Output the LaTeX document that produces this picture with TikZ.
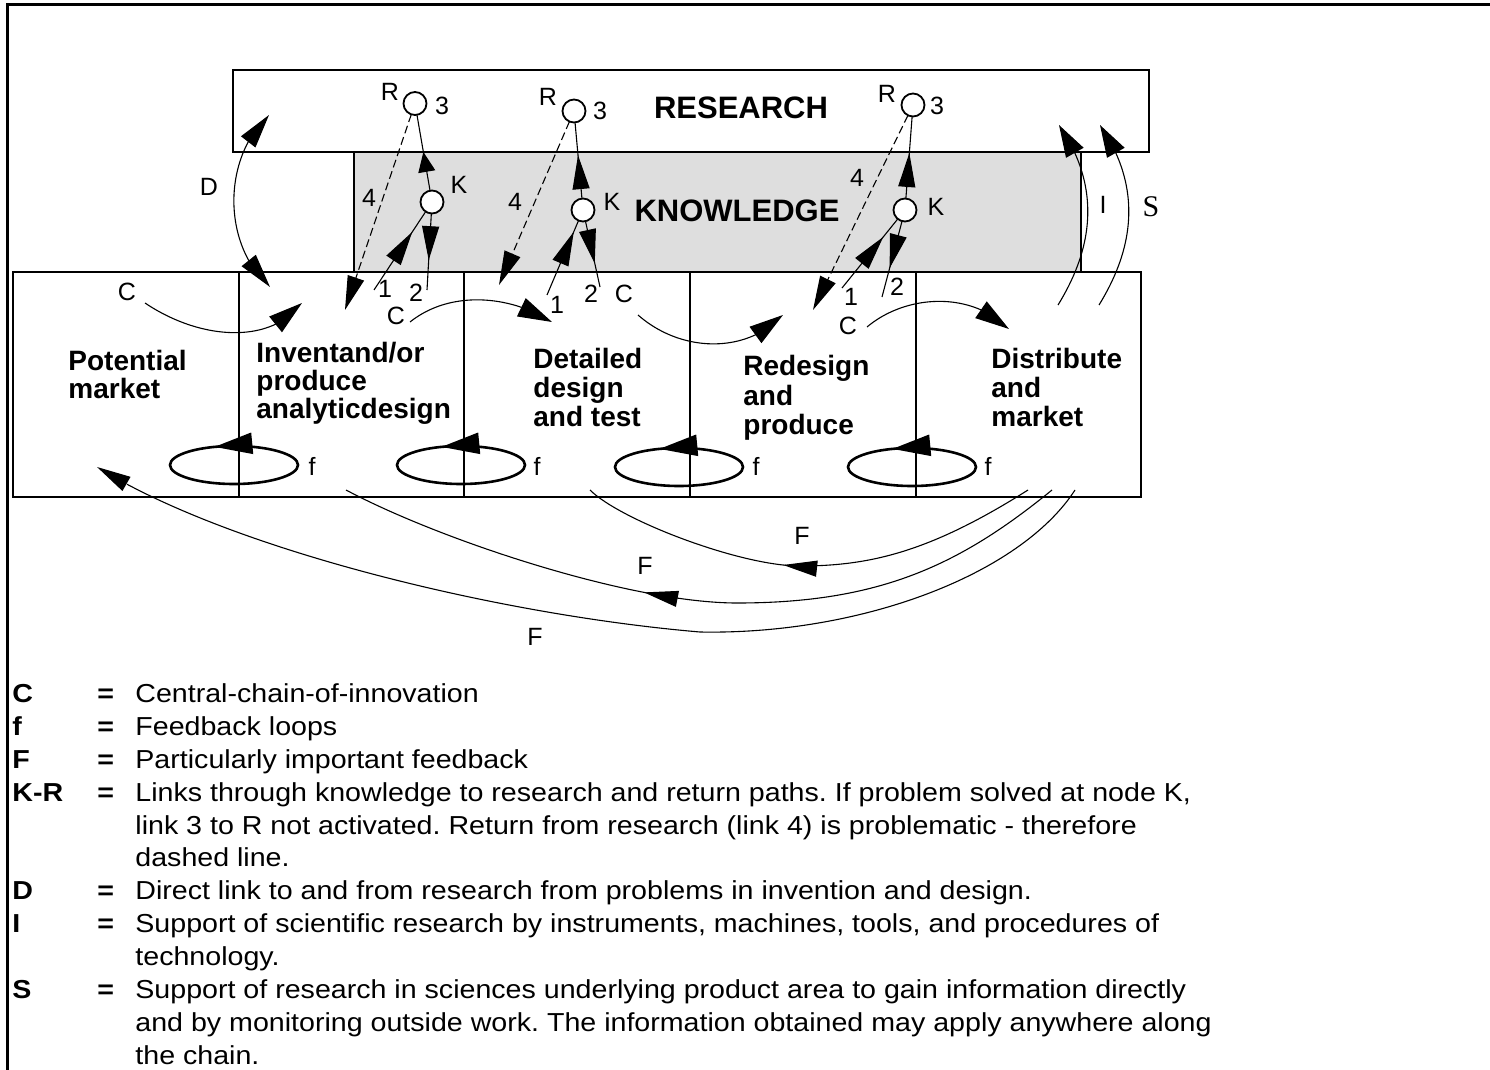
\documentclass[tikz,border=0pt]{standalone}
\usepackage{fontspec}
\setmainfont{Liberation Sans}
\newfontfamily\serifS{Liberation Serif}
\newfontfamily\legfont[FakeStretch=1.1]{Liberation Sans}
\usetikzlibrary{arrows.meta,decorations.markings,bending}
\definecolor{kgray}{HTML}{DEDEDE}
\frenchspacing
\tikzset{
  linkhead/.tip={Triangle[length=17pt,width=8.5pt]},
  shorthead/.tip={Triangle[length=10pt,width=8.5pt]},
  chead/.tip={Triangle[length=17pt,width=10pt]},
  dhead/.tip={Triangle[length=17pt,width=9pt]},
  ihead/.tip={Triangle[length=16pt,width=10pt]},
  fhead/.tip={Triangle[length=17pt,width=8pt]},
  loophead/.tip={Triangle[length=19pt,width=10.5pt]},
  conn/.style={line width=0.55pt},
  midtip/.style 2 args={postaction={decorate},decoration={markings,mark=at position #1 with {\arrow{#2}}}},
  link4/.style={conn,dash pattern=on 4pt off 2pt,-{linkhead}},
  kr/.style={circle,draw,fill=white,line width=0.9pt,minimum size=11.5pt,inner sep=0pt,outer sep=0pt},
  box/.style={draw,line width=1pt,inner sep=0pt,outer sep=0pt,anchor=north west},
  stage/.style={box,minimum height=112.5pt},
  stxt/.style={font=\fontsize{14}{15}\selectfont\bfseries,anchor=base west,inner sep=0pt},
  lbl/.style={font=\fontsize{12.5}{13}\selectfont,inner sep=0pt},
  loopring/.style={line width=1.3pt,postaction={decorate},decoration={markings,mark=at position 0.68 with {\arrowreversed{loophead}}}},
  legk/.style={font=\legfont\fontsize{13}{14}\selectfont\bfseries,anchor=base west,inner sep=0pt},
  legt/.style={font=\legfont\fontsize{13}{14}\selectfont,anchor=base west,inner sep=0pt},
}
\begin{document}
\begin{tikzpicture}[x=0.5pt,y=-0.5pt]
\useasboundingbox (0,0) rectangle (1490,1070);
% frame
\draw[line width=1.5pt] (7,1070) -- (7,5) -- (1490,5);

% boxes
\node[box,fill=white,minimum width=458pt,minimum height=41pt] (research) at (233,70) {};
\node[box,fill=kgray,minimum width=363.5pt,minimum height=60pt] (know) at (354,152) {};
\node[stage,minimum width=113pt] (s1) at (13,272) {};
\node[stage,minimum width=112.5pt] (s2) at (239,272) {};
\node[stage,minimum width=113pt] (s3) at (464,272) {};
\node[stage,minimum width=113pt] (s4) at (690,272) {};
\node[stage,minimum width=112.5pt] (s5) at (916,272) {};

\node[font=\fontsize{15.5}{16}\selectfont\bfseries,inner sep=0pt] (restxt) at (741,108) {RESEARCH};
\node[font=\fontsize{15.5}{16}\selectfont\bfseries,inner sep=0pt] (knowtxt) at (737,211) {KNOWLEDGE};

% stage texts
\node[stxt] (p1) at (68,370) {Potential};
\node[stxt] (p2) at (68,398) {market};
\node[stxt] (i1) at (256,362) {Inventand/or};
\node[stxt] (i2) at (256,390) {produce};
\node[stxt] (i3) at (256,418) {analyticdesign};
\node[stxt] (dd1) at (533,368) {Detailed};
\node[stxt] (dd2) at (533,397) {design};
\node[stxt] (dd3) at (533,426) {and test};
\node[stxt] (rr1) at (743,375) {Redesign};
\node[stxt] (rr2) at (743,405) {and};
\node[stxt] (rr3) at (743,434) {produce};
\node[stxt] (mm1) at (991,368) {Distribute};
\node[stxt] (mm2) at (991,397) {and};
\node[stxt] (mm3) at (991,426) {market};

% R and K nodes
\node[kr] (R1) at (415,103.5) {};
\node[kr] (R2) at (574,111) {};
\node[kr] (R3) at (913,105) {};
\node[kr] (K1) at (432,202) {};
\node[kr] (K2) at (583,210) {};
\node[kr] (K3) at (905,210) {};

% free ends
\coordinate (a1) at (374,290);
\coordinate (a2) at (547,295);
\coordinate (a3) at (842,288);
\coordinate (b1) at (427,290);
\coordinate (b2) at (600,287);
\coordinate (b3) at (882,297);
\coordinate (d1) at (345,310);
\coordinate (d2) at (499,285);
\coordinate (d3) at (813,310);

% link 3 (K to R)
\draw[conn,midtip={0.51}{shorthead}] (K1) -- (R1);
\draw[conn,midtip={0.57}{linkhead}] (K2) -- (R2);
\draw[conn,midtip={0.555}{linkhead}] (K3) -- (R3);
% link 1 (chain to K)
\draw[conn,midtip={0.74}{linkhead}] (a1) -- (K1);
\draw[conn,midtip={0.85}{linkhead}] (a2) -- (K2);
\draw[conn,midtip={0.74}{linkhead}] (a3) -- (K3);
% link 2 (K to chain)
\draw[conn,midtip={0.61}{linkhead}] (K1) -- (b1);
\draw[conn,midtip={0.64}{linkhead}] (K2) -- (b2);
\draw[conn,midtip={0.62}{linkhead}] (K3) -- (b3);
% link 4 dashed (R to chain)
\draw[link4] (R1) -- (d1);
\draw[link4] (R2) -- (d2);
\draw[link4] (R3) -- (d3);

% labels R,3,K,4,1,2
\node[lbl] (tR1) at (390,92) {R};
\node[lbl] (tR2) at (548,97) {R};
\node[lbl] (tR3) at (887,94) {R};
\node[lbl] (t31) at (442,106) {3};
\node[lbl] (t32) at (600,111) {3};
\node[lbl] (t33) at (937,106) {3};
\node[lbl] (tK1) at (459,185) {K};
\node[lbl] (tK2) at (612,202) {K};
\node[lbl] (tK3) at (936,207) {K};
\node[lbl] (t41) at (369,198) {4};
\node[lbl] (t42) at (515,202) {4};
\node[lbl] (t43) at (857,178) {4};
\node[lbl] (t11) at (385,289) {1};
\node[lbl] (t12) at (557,305) {1};
\node[lbl] (t13) at (851,297) {1};
\node[lbl] (t21) at (416,293) {2};
\node[lbl] (t22) at (591,294) {2};
\node[lbl] (t23) at (897,287) {2};

% central chain C
\coordinate (c1s) at (145,303); \coordinate (c1e) at (302,303);
\coordinate (c2s) at (410,322); \coordinate (c2e) at (552,322);
\coordinate (c3s) at (638,315); \coordinate (c3e) at (783,315);
\coordinate (c4s) at (867,327); \coordinate (c4e) at (1009,329);
\draw[conn,-{chead}] (c1s) .. controls (200,340) and (270,345) .. (c1e);
\draw[conn,-{chead}] (c2s) .. controls (450,290) and (510,295) .. (c2e);
\draw[conn,-{chead}] (c3s) .. controls (680,352) and (745,355) .. (c3e);
\draw[conn,-{chead}] (c4s) .. controls (905,295) and (970,290) .. (c4e);
\node[lbl] (tC1) at (127,292) {C};
\node[lbl] (tC2) at (396,316) {C};
\node[lbl] (tC3) at (624,294) {C};
\node[lbl] (tC4) at (848,326) {C};

% D
\coordinate (Dlo) at (270,287); \coordinate (Dhi) at (269,115);
\draw[conn,{dhead}-{dhead}] (Dlo) .. controls (222,245) and (222,158) .. (Dhi);
\node[lbl] (tD) at (209,187) {D};

% I and S
\coordinate (Is) at (1058,305); \coordinate (Ie) at (1059,125);
\coordinate (Ss) at (1099,305); \coordinate (Se) at (1100,125);
\draw[conn,-{ihead}] (Is) .. controls (1095,245) and (1100,185) .. (Ie);
\draw[conn,-{ihead}] (Ss) .. controls (1136,245) and (1141,185) .. (Se);
\node[lbl] (tI) at (1103,205) {I};
\node[font=\serifS\fontsize{15}{16}\selectfont,inner sep=0pt] (tS) at (1151,207) {S};

% feedback loops f
\draw[loopring] (234,465) ellipse [x radius=64, y radius=19];
\draw[loopring] (461,465) ellipse [x radius=64, y radius=19];
\draw[loopring] (679,467) ellipse [x radius=64, y radius=19];
\draw[loopring] (912,467) ellipse [x radius=64, y radius=19];
\node[lbl] (tf1) at (312,466) {f};
\node[lbl] (tf2) at (537,466) {f};
\node[lbl] (tf3) at (756,466) {f};
\node[lbl] (tf4) at (988,466) {f};

% F feedback
\coordinate (F1s) at (1028,490); \coordinate (F1e) at (590,490);
\coordinate (F2s) at (1052,490); \coordinate (F2e) at (346,490);
\coordinate (F3s) at (1075,490); \coordinate (F3e) at (97,467);
\draw[conn,midtip={0.555}{fhead}] (F1s) .. controls (930,552) and (870,566) .. (800,566) .. controls (740,566) and (620,520) .. (F1e);
\draw[conn,midtip={0.58}{fhead}] (F2s) .. controls (960,565) and (880,603) .. (737,603) .. controls (630,603) and (440,540) .. (F2e);
\draw[conn,-{fhead}] (F3s) .. controls (1020,575) and (860,635) .. (700,632) .. controls (500,615) and (230,550) .. (F3e);
\node[lbl] (tF1) at (802,536) {F};
\node[lbl] (tF2) at (645,566) {F};
\node[lbl] (tF3) at (535,637) {F};

% legend
\node[legk] (lk1) at (12,702) {C};
\node[legk] (le1) at (97,702) {=};
\node[legt] (lt1) at (135,702) {Central-chain-of-innovation};
\node[legk] (lk2) at (12,735) {f};
\node[legk] (le2) at (97,735) {=};
\node[legt] (lt2) at (135,735) {Feedback loops};
\node[legk] (lk3) at (12,768) {F};
\node[legk] (le3) at (97,768) {=};
\node[legt] (lt3) at (135,768) {Particularly important feedback};
\node[legk] (lk4) at (12,801) {K-R};
\node[legk] (le4) at (97,801) {=};
\node[legt] (lt4) at (135,801) {Links through knowledge to research and return paths. If problem solved at node K,};
\node[legt] (lt5) at (135,834) {link 3 to R not activated. Return from research (link 4) is problematic - therefore};
\node[legt] (lt6) at (135,866) {dashed line.};
\node[legk] (lk7) at (12,899) {D};
\node[legk] (le7) at (97,899) {=};
\node[legt] (lt7) at (135,899) {Direct link to and from research from problems in invention and design.};
\node[legk] (lk8) at (12,932) {I};
\node[legk] (le8) at (97,932) {=};
\node[legt] (lt8) at (135,932) {Support of scientific research by instruments, machines, tools, and procedures of};
\node[legt] (lt9) at (135,965) {technology.};
\node[legk] (lk10) at (12,998) {S};
\node[legk] (le10) at (97,998) {=};
\node[legt] (lt10) at (135,998) {Support of research in sciences underlying product area to gain information directly};
\node[legt] (lt11) at (135,1031) {and by monitoring outside work. The information obtained may apply anywhere along};
\node[legt] (lt12) at (135,1064) {the chain.};
\end{tikzpicture}
\end{document}
